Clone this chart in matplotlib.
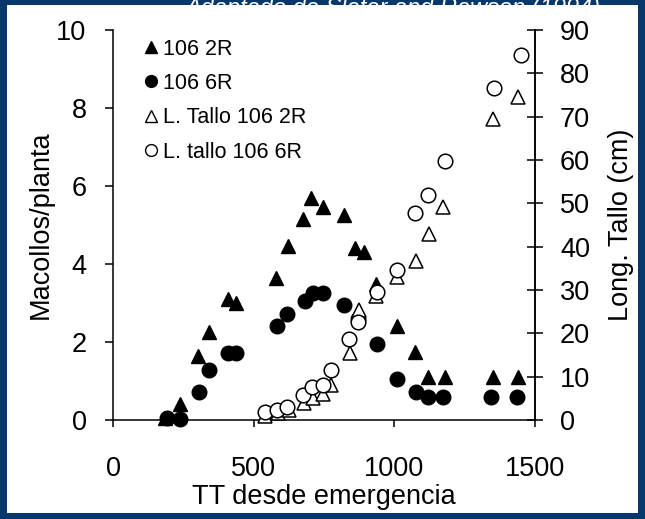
import matplotlib.pyplot as plt
from matplotlib.patches import Rectangle
from matplotlib.lines import Line2D

plt.rcParams['font.family'] = ['Liberation Sans', 'DejaVu Sans']

# macollos por planta (eje izquierdo)
tt_2r = [185, 238, 302, 341, 409, 437, 579, 622, 676, 704, 747, 821, 860, 892,
         935, 1010, 1074, 1120, 1180, 1351, 1440]
mac_2r = [0.05, 0.4, 1.65, 2.25, 3.1, 3.0, 3.65, 4.45, 5.15, 5.7, 5.45, 5.25,
          4.4, 4.3, 3.5, 2.4, 1.75, 1.1, 1.1, 1.1, 1.1]

tt_6r = [192, 238, 306, 341, 409, 437, 583, 619, 683, 711, 747, 821, 870, 939,
         1010, 1077, 1120, 1173, 1344, 1436]
mac_6r = [0.05, 0.03, 0.72, 1.28, 1.72, 1.72, 2.4, 2.72, 3.05, 3.25, 3.25, 2.95,
          2.6, 1.95, 1.05, 0.72, 0.6, 0.6, 0.6, 0.6]

# longitud de tallo en cm (eje derecho)
tt_l2r = [540, 587, 626, 679, 711, 747, 775, 843, 875, 935, 1010, 1077, 1123,
          1173, 1350, 1438]
tallo_2r = [0.9, 1.6, 2.3, 3.9, 5.1, 6.0, 8.1, 15.5, 25.4, 28.6, 33.0, 36.7,
            42.9, 49.2, 69.5, 74.6]

tt_l6r = [540, 583, 619, 676, 708, 747, 775, 839, 871, 939, 1010, 1074, 1120,
          1180, 1355, 1451]
tallo_6r = [1.8, 2.3, 3.0, 5.8, 7.6, 8.1, 11.5, 18.7, 22.6, 29.5, 34.6, 47.8,
            51.9, 59.8, 76.6, 84.2]

navy = '#06386c'
fig = plt.figure(figsize=(6.45, 5.19), dpi=100, facecolor=navy)
W, H = 645, 519
fig.patches.append(Rectangle((7 / W, 1 - 513 / H), 631 / W, 508 / H,
                             transform=fig.transFigure, facecolor='white',
                             edgecolor='none', zorder=-2))
fig.text(185 / W, 1 + 3 / H, 'Adaptado de Slater and Rawson (1994)', color='white',
         fontsize=17, style='italic', ha='left', va='top', zorder=-3)

ax = fig.add_axes([113 / W, 1 - 420 / H, 422 / W, 390 / H], zorder=1)
ax.set_facecolor('none')
ms = 10.5
ax.plot(tt_2r, mac_2r, '^', color='black', ms=ms, clip_on=False)
ax.plot(tt_6r, mac_6r, 'o', color='black', ms=ms, clip_on=False)
ax.set_xlim(0, 1500)
ax.set_ylim(0, 10)
ax.set_xticks([0, 500, 1000, 1500])
ax.set_yticks([0, 2, 4, 6, 8, 10])
ax.spines['top'].set_visible(False)
for s in ax.spines.values():
    s.set_linewidth(1.1)
ax.tick_params(axis='y', direction='out', length=6, width=1.1, pad=13, labelsize=19.5)
ax.tick_params(axis='x', direction='out', length=5, width=1.1, pad=21, labelsize=19.5)
ax.set_xlabel('TT desde emergencia', fontsize=19.5, labelpad=1)
ax.set_ylabel('Macollos/planta', fontsize=19.5, labelpad=2)

ax2 = ax.twinx()
ax2.set_zorder(2)
ax2.set_facecolor('none')
ax2.plot(tt_l2r, tallo_2r, '^', mfc='white', mec='black', mew=1.1, ms=ms, clip_on=False)
ax2.plot(tt_l6r, tallo_6r, 'o', mfc='white', mec='black', mew=1.1, ms=ms, clip_on=False)
ax2.set_ylim(0, 90)
ax2.set_yticks(range(0, 100, 10))
ax2.spines['top'].set_visible(False)
ax2.spines['left'].set_visible(False)
ax2.spines['bottom'].set_visible(False)
ax2.spines['right'].set_linewidth(1.1)
ax2.tick_params(axis='y', direction='inout', length=12, width=1.1, pad=12, labelsize=19.5)
ax2.set_ylabel('Long. Tallo (cm)', fontsize=19.5, labelpad=13)

handles = [
    Line2D([], [], ls='none', marker='^', color='black', ms=8.5),
    Line2D([], [], ls='none', marker='o', color='black', ms=8.5),
    Line2D([], [], ls='none', marker='^', mfc='white', mec='black', mew=1, ms=8.5),
    Line2D([], [], ls='none', marker='o', mfc='white', mec='black', mew=1, ms=8.5),
]
labels = ['106 2R', '106 6R', 'L. Tallo 106 2R', 'L. tallo 106 6R']
ax2.legend(handles, labels, loc='upper left', bbox_to_anchor=(0.055, 1.0),
           frameon=False, fontsize=15.5, handlelength=0.6, handletextpad=0.25,
           labelspacing=0.62, borderaxespad=0)

fig.savefig('out.png', dpi=100, facecolor=navy)
